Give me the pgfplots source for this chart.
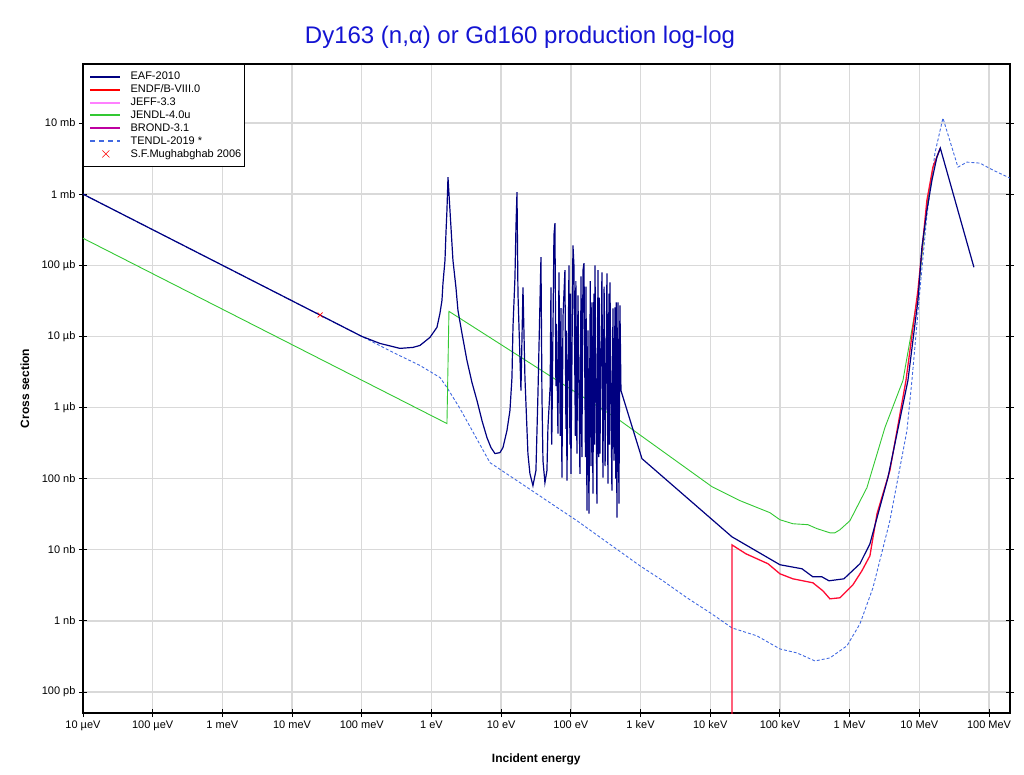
\documentclass[border=0pt]{standalone}
\usepackage{pgfplots}
\pgfplotsset{compat=1.18}
\usepackage{fontspec}
\setmainfont{Liberation Sans}
\definecolor{eaf}{RGB}{0,0,128}
\definecolor{endf}{RGB}{255,10,50}
\definecolor{jeff}{RGB}{255,128,255}
\definecolor{jendl}{RGB}{50,200,50}
\definecolor{brond}{RGB}{190,0,160}
\definecolor{tendl}{RGB}{65,105,225}
\definecolor{titleblue}{RGB}{20,20,210}
\begin{document}
\begin{tikzpicture}
\useasboundingbox (-83pt,-61pt) rectangle (941pt,713pt);
\begin{loglogaxis}[
  scale only axis, width=927pt, height=649pt,
  at={(0pt,0pt)}, anchor=south west,
  xmin=1e-5, xmax=2e8, ymin=5.06e-11, ymax=0.0676,
  xtick={1e-5,1e-4,1e-3,1e-2,1e-1,1,10,100,1e3,1e4,1e5,1e6,1e7,1e8},
  xticklabels={10 µeV,100 µeV,1 meV,10 meV,100 meV,1 eV,10 eV,100 eV,1 keV,10 keV,100 keV,1 MeV,10 MeV,100 MeV},
  ytick={1e-10,1e-9,1e-8,1e-7,1e-6,1e-5,1e-4,1e-3,1e-2},
  yticklabels={100 pb,1 nb,10 nb,100 nb,1 µb,10 µb,100 µb,1 mb,10 mb},
  xminorticks=false, yminorticks=false,
  xtick pos=bottom, ytick pos=both,
  tick align=center, major tick length=8pt,
  tick style={black, line width=0.9pt},
  grid=major, major grid style={draw=black!15, line width=1.4pt},
  axis line style={black, line width=1.4pt},
  ticklabel style={font=\fontsize{11}{13}\selectfont},
  title={Dy163 (n,α) or Gd160 production log-log},
  title style={at={(axis description cs:0.4714,1.0324)}, anchor=center, yshift=0pt, font=\fontsize{24}{28}\selectfont, text=titleblue},
  xlabel={Incident energy},
  xlabel style={at={(axis description cs:0.489,-0.0709)}, anchor=center, font=\bfseries\fontsize{12}{14}\selectfont},
  ylabel={Cross section},
  ylabel style={at={(axis description cs:-0.0626,0.5)}, anchor=center, font=\bfseries\fontsize{12}{14}\selectfont},
  legend style={at={(axis description cs:0,1)}, anchor=north west, draw=black, fill=white,
    font=\fontsize{11}{12.5}\selectfont, row sep=-0.4pt, inner ysep=6pt, inner xsep=1pt},
  legend cell align=left,
]
\addlegendimage{legend image code/.code={\path (0pt,0pt) (44pt,0pt);\draw[eaf,solid,line width=2pt] (6pt,0pt) -- (36pt,0pt);}}
\addlegendentry{EAF-2010}
\addlegendimage{legend image code/.code={\path (0pt,0pt) (44pt,0pt);\draw[red,solid,line width=2pt] (6pt,0pt) -- (36pt,0pt);}}
\addlegendentry{ENDF/B-VIII.0}
\addlegendimage{legend image code/.code={\path (0pt,0pt) (44pt,0pt);\draw[jeff,solid,line width=2pt] (6pt,0pt) -- (36pt,0pt);}}
\addlegendentry{JEFF-3.3}
\addlegendimage{legend image code/.code={\path (0pt,0pt) (44pt,0pt);\draw[jendl,solid,line width=2pt] (6pt,0pt) -- (36pt,0pt);}}
\addlegendentry{JENDL-4.0u}
\addlegendimage{legend image code/.code={\path (0pt,0pt) (44pt,0pt);\draw[brond,solid,line width=2pt] (6pt,0pt) -- (36pt,0pt);}}
\addlegendentry{BROND-3.1}
\addlegendimage{legend image code/.code={\path (0pt,0pt) (44pt,0pt);\draw[tendl,dash pattern=on 5pt off 4pt,line width=2pt] (6pt,0pt) -- (36pt,0pt);}}
\addlegendentry{TENDL-2019 *}
\addlegendimage{legend image code/.code={\path (0pt,0pt) (44pt,0pt);\draw[red,solid,line width=0.6pt] (18pt,-3.5pt) -- (25pt,3.5pt) (18pt,3.5pt) -- (25pt,-3.5pt);}}
\addlegendentry{S.F.Mughabghab 2006}

% TENDL-2019
\addplot[forget plot, tendl, densely dashed, line width=0.9pt] coordinates {
(1e-5,1e-3)(0.1,1e-5)(0.2805,5.96e-6)(0.684,3.90e-6)(1.324,2.64e-6)(1.668,1.91e-6)(2.564,9.68e-7)
(6.90,1.68e-7)(122.2,2.56e-8)(980,5.95e-9)(2094,3.66e-9)(4634,2.11e-9)(1.057e4,1.25e-9)(20470,7.96e-10)
(4.68e4,6.15e-10)(1.0e5,4.03e-10)(1.754e5,3.54e-10)(3.18e5,2.73e-10)(5.21e5,3.01e-10)(9.14e5,4.45e-10)
(1.406e6,9.07e-10)(2.16e6,2.92e-9)(3.78e6,2.56e-8)(6.64e6,4.74e-7)(7.83e6,2.40e-6)(1.019e7,4.45e-5)
(1.285e7,5.06e-4)(1.675e7,3.78e-3)(2.18e7,1.175e-2)(3.58e7,2.40e-3)(4.82e7,2.82e-3)(7.40e7,2.73e-3)
(1.138e8,2.18e-3)(2.0e8,1.68e-3)};

% JENDL-4.0u
\addplot[forget plot, jendl, line width=0.9pt] coordinates {
(1e-5,2.40e-4)(1.668,5.95e-7)(1.782,2.25e-5)(505.8,6.56e-7)(1.057e4,7.71e-8)(2.67e4,4.90e-8)
(7.18e4,3.32e-8)(1.0e5,2.64e-8)(1.535e5,2.32e-8)(2.52e5,2.25e-8)(3.40e5,1.98e-8)(5.21e5,1.73e-8)
(6.15e5,1.73e-8)(7.26e5,1.91e-8)(1.01e6,2.56e-8)(1.77e6,7.46e-8)(3.21e6,5.23e-7)(5.82e6,2.40e-6)
(9.55e6,3.78e-5)(1.285e7,7.00e-4)(1.567e7,2.35e-3)(2.0e7,4.44e-3)};

% ENDF/B-VIII.0
\addplot[forget plot, endf, line width=1.3pt] coordinates {
(20470,1e-12)(20470,1.17e-8)(3.25e4,8.77e-9)(6.73e4,6.36e-9)(1.0e5,4.59e-9)(1.535e5,3.90e-9)
(2.97e5,3.43e-9)(4.14e5,2.64e-9)(5.21e5,2.04e-9)(7.26e5,2.11e-9)(1.114e6,3.21e-9)(1.50e6,5.06e-9)
(1.954e6,8.22e-9)(2.47e6,3.21e-8)(3.78e6,1.30e-7)(6.43e6,2.40e-6)(9.55e6,4.45e-5)(1.285e7,8.22e-4)
(1.567e7,2.40e-3)(2.0e7,4.44e-3)};

% EAF-2010
\addplot[forget plot, eaf, line width=1.2pt] coordinates {
(1e-5,1e-3)(0.1,1e-5)(0.1824,7.96e-6)(0.353,6.78e-6)(0.543,7.0e-6)(0.684,7.46e-6)(0.951,9.68e-6)
(1.199,1.34e-5)(1.324,2.11e-5)(1.415,3.21e-5)(1.462,5.57e-5)(1.563,1.175e-4)(1.614,2.82e-4)
(1.668,5.96e-4)(1.726,1.73e-3)(1.842,5.96e-4)(2.033,1.175e-4)(2.244,4.90e-5)(2.399,2.32e-5)
(2.741,1.10e-5)(3.228,4.59e-6)(3.811,2.25e-6)(4.498,1.25e-6)(5.30,6.56e-7)(6.252,3.78e-7)
(7.14,2.73e-7)(8.147,2.25e-7)(9.61,2.32e-7)(10.61,2.73e-7)(12.11,4.74e-7)(13.37,9.08e-7)
(14.29,2.64e-6)(14.77,1.34e-5)(15.78,6.78e-5)(16.30,3.43e-4)(16.87,1.07e-3)(17.42,4.04e-5)
(19.23,1.73e-6)(20.56,4.90e-5)(21.93,2.64e-6)(24.21,2.25e-7)(25.88,1.17e-7)(28.58,7.96e-8)
(31.55,1.30e-7)(33.73,1.57e-6)(37.24,1.30e-4)(38.46,1.57e-6)(39.8,1.79e-7)(42.46,8.77e-8)
(45.4,1.30e-7)(46.9,5.23e-7)
(50.5,2.0e-6)(51.8,4.90e-5)(53.0,3.0e-7)(53.5,4.74e-7)
(57.2,2.64e-4)(59.1,3.90e-4)(61,2.0e-6)(62,1.5e-5)(65.3,4.31e-7)
(67.5,7.97e-5)(70.5,4.0e-7)(72,2.5e-5)(74.5,1.03e-7)
(77.1,1.85e-5)(82.2,8.51e-5)(85,5.0e-7)(86,1.2e-5)(87.9,9.38e-8)
(94.0,1.00e-4)(97,3.0e-7)(98.5,4.0e-5)(100.2,1.17e-7)
(107.2,1.91e-4)(110.7,1.00e-4)(116,4.0e-7)(118,6.0e-5)(122.2,2.25e-7)
(126.5,3.78e-5)(134.9,1.17e-7)(140,7.0e-5)(144,2.0e-7)
(149.3,8.51e-5)(154.2,1.07e-4)(162,2.0e-7)(165,5.0e-5)(170.2,3.54e-8)
(175.8,1.21e-5)(181.9,3.21e-8)(190,6.0e-5)(195,1.5e-7)
(200.9,3.01e-5)(207.5,6.15e-8)(214,4.0e-5)(218,3.0e-7)
(221.8,1.00e-4)(236.6,4.44e-8)(244.9,8.51e-5)(252,2.0e-7)(255,3.5e-5)(261.2,2.25e-7)
(279.3,7.97e-5)(288.4,1.03e-7)(300,5.0e-5)(310,1.5e-7)
(329.6,7.71e-5)(340.4,8.50e-8)(352,4.0e-5)(358,3.0e-7)
(363.9,5.75e-5)(388.2,6.77e-8)(401.8,2.48e-5)(415.0,1.79e-7)(429.5,2.56e-5)
(440,1.0e-7)(448,3.0e-5)(458.1,2.82e-8)(474.2,3.01e-5)(489.8,4.44e-8)(505.8,2.73e-5)(523.6,1.73e-6)
(1047,1.91e-7)(20470,1.52e-8)(1.0e5,6.15e-9)(2.07e5,5.40e-9)(2.97e5,4.16e-9)(4.0e5,4.16e-9)(5.05e5,3.66e-9)
(8.28e5,3.90e-9)(1.406e6,6.36e-9)(1.954e6,1.21e-8)(3.54e6,1.03e-7)(6.86e6,2.40e-6)(9.55e6,3.21e-5)
(1.089e7,1.79e-4)(1.285e7,5.96e-4)(1.517e7,1.57e-3)(1.786e7,3.32e-3)(2.0e7,4.44e-3)(6.07e7,9.37e-5)};

% S.F.Mughabghab 2006
\addplot[forget plot, only marks, mark=x, mark size=3.5pt, red, line width=0.6pt] coordinates {(0.0253,2.0e-5)};
\end{loglogaxis}
\end{tikzpicture}
\end{document}
